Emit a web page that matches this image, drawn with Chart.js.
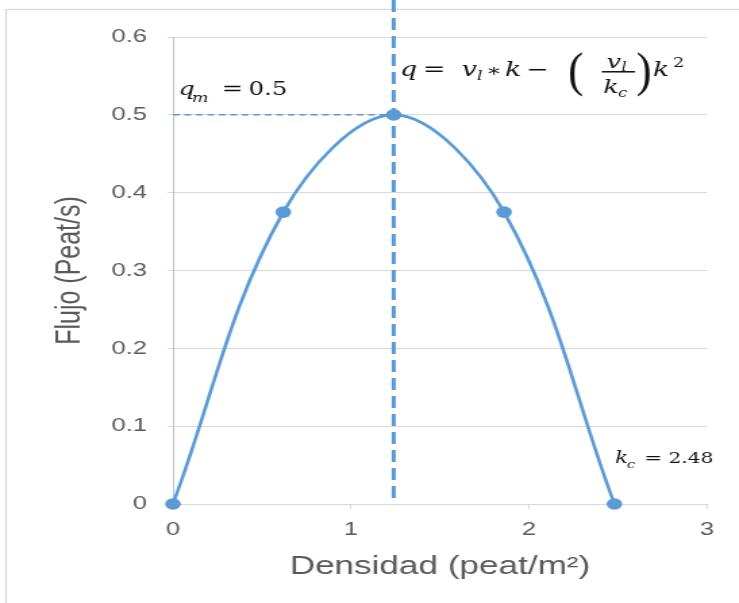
<!DOCTYPE html>
<html>
<head>
<meta charset="utf-8">
<script src="https://cdn.jsdelivr.net/npm/chart.js@4/dist/chart.umd.min.js"></script>
<style>
  html, body { margin: 0; padding: 0; background: #fff; overflow: hidden; }
  #wrap { width: 547px; height: 603px; transform: scaleX(1.351); transform-origin: 0 0; }
  canvas { display: block; }
</style>
</head>
<body>
<div id="wrap"><canvas id="c" width="547" height="603"></canvas></div>
<script>
// Flujo peatonal vs densidad (modelo de Greenshields)
const densidad = [0, 0.62, 1.24, 1.86, 2.48];
const flujo = [0, 0.375, 0.5, 0.375, 0];
const yTickLabels = ['0', '0.1', '0.2', '0.3', '0.4', '0.5', '0.6'];
const xTickLabels = ['0', '1', '2', '3'];
const kOptima = 1.24;   // densidad en el flujo máximo
const qMaximo = 0.5;    // flujo máximo q_m
const kCritica = 2.48;  // densidad de congestión k_c

const AZUL = '#5b9bd5';
const GRIS_TEXTO = '#595959';
const GRIS_REJILLA = '#d9d9d9';
const SERIF = '"DejaVu Serif", "Liberation Serif", serif';
const SANS = '"Liberation Sans", Arial, sans-serif';

function put(ctx, text, font, x, y) {
  ctx.font = font;
  ctx.textAlign = 'left';
  ctx.textBaseline = 'alphabetic';
  ctx.fillText(text, x, y);
}
// paréntesis alto: glifo estirado en vertical hasta la altura pedida
function paren(ctx, ch, font, x, cy, alto) {
  ctx.save();
  ctx.font = font;
  ctx.textAlign = 'left';
  ctx.textBaseline = 'alphabetic';
  const m = ctx.measureText(ch);
  const h = m.actualBoundingBoxAscent + m.actualBoundingBoxDescent;
  const sy = alto / h;
  ctx.translate(x, cy);
  ctx.scale(1, sy);
  ctx.fillText(ch, 0, (m.actualBoundingBoxAscent - m.actualBoundingBoxDescent) / 2);
  ctx.restore();
}

const guias = {
  id: 'guias',
  beforeDraw(chart) {
    const ctx = chart.ctx;
    ctx.save();
    ctx.strokeStyle = GRIS_REJILLA;
    ctx.lineWidth = 1.2;
    ctx.strokeRect(4.5, 9.5, chart.width + 20, chart.height + 20);
    ctx.restore();
  },
  beforeDatasetsDraw(chart) {
    const { ctx, scales: { x, y } } = chart;
    const xm = x.getPixelForValue(kOptima);
    const ym = y.getPixelForValue(qMaximo);
    ctx.save();
    ctx.strokeStyle = AZUL;
    // línea horizontal en q_m
    ctx.lineWidth = 1.5;
    ctx.setLineDash([5, 3.5]);
    ctx.beginPath();
    ctx.moveTo(x.getPixelForValue(0), ym);
    ctx.lineTo(xm, ym);
    ctx.stroke();
    // línea vertical en la densidad óptima
    ctx.lineWidth = 3;
    ctx.setLineDash([12, 6]);
    ctx.beginPath();
    ctx.moveTo(xm, 0);
    ctx.lineTo(xm, y.getPixelForValue(0) - 3);
    ctx.stroke();
    ctx.restore();
  },
  afterDraw(chart) {
    const { ctx, scales: { x, y } } = chart;
    ctx.save();
    ctx.fillStyle = '#111';

    // q_m = 0.5
    const x0 = x.getPixelForValue(0);
    const b1 = y.getPixelForValue(qMaximo) - 20;
    put(ctx, 'q', `italic 19px ${SERIF}`, x0 + 4, b1);
    put(ctx, 'm', `italic 13px ${SERIF}`, x0 + 13.9, b1 + 6.7);
    put(ctx, '=', `19px ${SERIF}`, x0 + 36, b1);
    put(ctx, '0.5', `18px ${SERIF}`, x0 + 56, b1);

    // q = v_l * k - (v_l / k_c) k^2
    const ax = x.getPixelForValue(kOptima);
    const b = y.getPixelForValue(qMaximo) - 39;
    put(ctx, 'q', `italic 20px ${SERIF}`, ax + 4.7, b);
    put(ctx, '=', `20px ${SERIF}`, ax + 21.5, b);
    put(ctx, 'v', `italic 20px ${SERIF}`, ax + 50.4, b);
    put(ctx, 'l', `italic 13px ${SERIF}`, ax + 61.5, b + 4);
    put(ctx, '\u2217', `17px ${SERIF}`, ax + 68.5, b);
    put(ctx, 'k', `italic 20px ${SERIF}`, ax + 82.4, b);
    put(ctx, '\u2212', `20px ${SERIF}`, ax + 98, b);
    paren(ctx, '(', `34px "Liberation Serif", serif`, ax + 129, b - 1, 46);
    put(ctx, 'v', `italic 19px ${SERIF}`, ax + 157.7, b - 8);
    put(ctx, 'l', `italic 12px ${SERIF}`, ax + 168.5, b - 5);
    ctx.fillRect(ax + 154, b - 4.8, 24.6, 1.5);
    put(ctx, 'k', `italic 19px ${SERIF}`, ax + 155, b + 17);
    put(ctx, 'c', `italic 12px ${SERIF}`, ax + 166, b + 21);
    paren(ctx, ')', `34px "Liberation Serif", serif`, ax + 179.5, b - 1, 46);
    put(ctx, 'k', `italic 20px ${SERIF}`, ax + 191.9, b);
    put(ctx, '2', `13px ${SERIF}`, ax + 206.8, b - 9);

    // k_c = 2.48
    const xc = x.getPixelForValue(kCritica);
    const b2 = y.getPixelForValue(0) - 40.7;
    put(ctx, 'k', `italic 16px ${SERIF}`, xc + 0.4, b2);
    put(ctx, 'c', `italic 11px ${SERIF}`, xc + 9.1, b2 + 4.5);
    put(ctx, '=', `16px ${SERIF}`, xc + 22, b2);
    put(ctx, '2.48', `15px ${SERIF}`, xc + 39.9, b2);

    ctx.restore();
  }
};

new Chart(document.getElementById('c'), {
  type: 'scatter',
  data: {
    datasets: [{
      data: densidad.map((k, i) => ({ x: k, y: flujo[i] })),
      showLine: true,
      tension: 0.36,
      borderColor: AZUL,
      backgroundColor: AZUL,
      borderWidth: 2.6,
      pointRadius: 5.8,
      pointHoverRadius: 5.8,
      pointBorderWidth: 0,
      clip: false
    }]
  },
  options: {
    responsive: false,
    devicePixelRatio: 1,
    animation: false,
    events: [],
    layout: { padding: { top: 37, right: 23.7, left: 0, bottom: 0 } },
    plugins: { legend: { display: false }, tooltip: { enabled: false } },
    scales: {
      x: {
        type: 'linear',
        min: 0, max: 3,
        afterFit(s) { s.height = 99; },
        border: { display: true, color: GRIS_REJILLA, width: 1 },
        grid: { drawOnChartArea: false, drawTicks: true, tickLength: 5, color: GRIS_REJILLA },
        ticks: {
          stepSize: 1,
          padding: 9,
          color: GRIS_TEXTO,
          font: { family: SANS, size: 19 },
          callback: (v, i) => xTickLabels[i]
        },
        title: {
          display: true,
          text: 'Densidad (peat/m²)',
          color: GRIS_TEXTO,
          font: { family: SANS, size: 26 },
          padding: { top: 0, bottom: 20.4 }
        }
      },
      y: {
        type: 'linear',
        min: 0, max: 0.6,
        afterFit(s) { s.width = 128; },
        border: { display: true, color: '#bfbfbf', width: 1 },
        grid: { color: GRIS_REJILLA, lineWidth: 1, tickLength: 4 },
        ticks: {
          stepSize: 0.1,
          padding: 15.2,
          color: GRIS_TEXTO,
          font: { family: SANS, size: 19 },
          callback: (v, i) => yTickLabels[i]
        },
        title: {
          display: true,
          text: 'Flujo (Peat/s)',
          color: GRIS_TEXTO,
          font: { family: SANS, size: 25 },
          padding: { top: 36.8, bottom: 0 }
        }
      }
    }
  },
  plugins: [guias]
});
</script>
</body>
</html>
